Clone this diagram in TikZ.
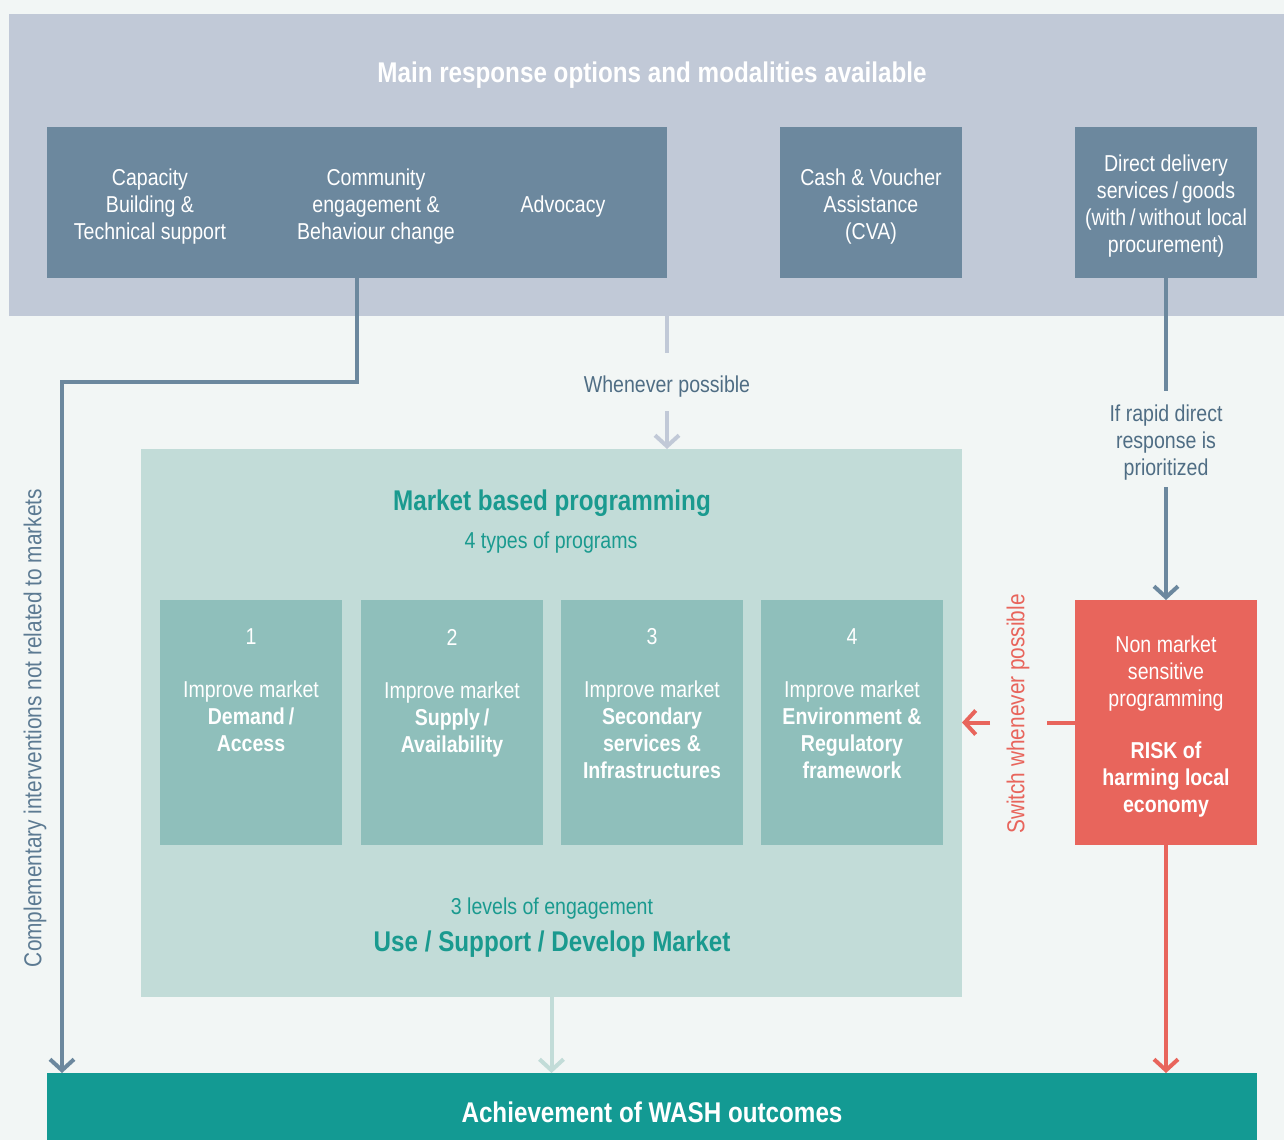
\documentclass[tikz,border=0pt]{standalone}
\usepackage{fontspec}
\setmainfont{Liberation Sans}[FakeStretch=0.85]
\usetikzlibrary{arrows.meta}
\definecolor{bgc}{HTML}{F2F6F5}
\definecolor{bandc}{HTML}{C1C9D7}
\definecolor{slate}{HTML}{6C889E}
\definecolor{mktc}{HTML}{C2DCD8}
\definecolor{mboxc}{HTML}{8FBFBB}
\definecolor{tealt}{HTML}{1A9A8F}
\definecolor{redc}{HTML}{E8655C}
\definecolor{outc}{HTML}{139A93}
\definecolor{labc}{HTML}{4F6D84}
\definecolor{vertc}{HTML}{5C7A92}
\tikzset{
  panel/.style={draw=none, inner sep=0pt, outer sep=0pt},
  txt/.style={font=\fontsize{23}{27}\selectfont, align=center, inner sep=0pt, text=white},
  bigtxt/.style={font=\fontsize{28.5}{32}\selectfont\bfseries, align=center, inner sep=0pt, text=white},
  vtxt/.style={font=\fontsize{24.5}{28}\selectfont, inner sep=0pt, rotate=90},
  barb/.tip={Straight Barb[length=11pt,width=24pt]},
  conn/.style={line width=4pt},
}
\begin{document}
\begin{tikzpicture}[x=1pt,y=-1pt]
\useasboundingbox (0,0) rectangle (1284,1140);
\fill[bgc] (0,0) rectangle (1284,1140);

% top band
\node[panel, fill=bandc, minimum width=1275pt, minimum height=302pt] (band) at (646.5,165) {};
\node[bigtxt] (title) at (652,75) {Main response options and modalities available};

% top boxes
\node[panel, fill=slate, minimum width=620pt, minimum height=151pt] (b1) at (357,202.5) {};
\node[panel, fill=slate, minimum width=182pt, minimum height=151pt] (b2) at (871,202.5) {};
\node[panel, fill=slate, minimum width=182pt, minimum height=151pt] (b3) at (1166,202.5) {};
\node[txt] (t11) at (150,207) {Capacity\\Building \&\\Technical support};
\node[txt] (t12) at (376,207) {Community\\engagement \&\\Behaviour change};
\node[txt] (t13) at (563,207) {Advocacy};
\node[txt] (t2) at (871,207) {Cash \& Voucher\\Assistance\\(CVA)};
\node[txt] (t3) at (1166,206.5) {Direct delivery\\services\,/\,goods\\(with\,/\,without local\\procurement)};

% market box
\node[panel, fill=mktc, minimum width=821pt, minimum height=548pt] (mkt) at (551.5,723) {};
\node[bigtxt, text=tealt] (mtitle) at (552,503) {Market based programming};
\node[txt, text=tealt] (msub) at (551,543) {4 types of programs};
\node[txt, text=tealt] (mlev) at (552,909) {3 levels of engagement};
\node[bigtxt, text=tealt] (muse) at (552,944) {Use / Support / Develop Market};

% four program boxes
\node[panel, fill=mboxc, minimum width=182pt, minimum height=245pt] (p1) at (251,722.5) {};
\node[panel, fill=mboxc, minimum width=182pt, minimum height=245pt] (p2) at (452,722.5) {};
\node[panel, fill=mboxc, minimum width=182pt, minimum height=245pt] (p3) at (652,722.5) {};
\node[panel, fill=mboxc, minimum width=182pt, minimum height=245pt] (p4) at (852,722.5) {};
\node[txt] (n1) at (251,637) {1};
\node[txt] (n2) at (452,637) {2};
\node[txt] (n3) at (652,637) {3};
\node[txt] (n4) at (852,637) {4};
\node[txt] (q1) at (251,716.5) {Improve market\\\textbf{Demand\,/}\\\textbf{Access}};
\node[txt] (q2) at (452,719.5) {Improve market\\\textbf{Supply\,/}\\\textbf{Availability}};
\node[txt] (q3) at (652,730) {Improve market\\\textbf{Secondary}\\\textbf{services \&}\\\textbf{Infrastructures}};
\node[txt] (q4) at (852,730) {Improve market\\\textbf{Environment \&}\\\textbf{Regulatory}\\\textbf{framework}};

% red box
\node[panel, fill=redc, minimum width=182pt, minimum height=245pt] (red) at (1166,722.5) {};
\node[txt] (r1t) at (1166,674) {Non market\\sensitive\\programming};
\node[txt] (r2t) at (1166,780) {\textbf{RISK of}\\\textbf{harming local}\\\textbf{economy}};

% outcome bar
\node[panel, fill=outc, minimum width=1210pt, minimum height=67pt] (out) at (652,1106.5) {};
\node[bigtxt] (otxt) at (652,1112) {Achievement of WASH outcomes};

% labels
\node[txt, text=labc] (wp) at (667,387) {Whenever possible};
\node[txt, text=labc] (rap) at (1166,443) {If rapid direct\\response is\\prioritized};
\node[vtxt, text=vertc] (comp) at (35,728) {Complementary interventions not related to markets};
\node[vtxt, text=redc] (sw) at (1018,714) {Switch whenever possible};

% coordinates
\coordinate (k1) at (62,382);
\coordinate (w1) at (667,353);
\coordinate (w2) at (667,411);
\coordinate (rr1) at (1166,391);
\coordinate (rr2) at (1166,487);
\coordinate (s1) at (1047,722.5);
\coordinate (s2) at (990,722.5);

% connectors
\draw[conn, slate, -barb] (b1.south) |- (k1) -- (k1 |- out.north);
\draw[conn, bandc] (b1.east |- band.south) -- (w1);
\draw[conn, bandc, -barb] (w2) -- (w2 |- mkt.north);
\draw[conn, slate] (b3.south) -- (rr1);
\draw[conn, slate, -barb] (rr2) -- (red.north);
\draw[conn, redc] (red.west) -- (s1);
\draw[conn, redc, -barb] (s2) -- (mkt.east |- s2);
\draw[conn, redc, -barb] (red.south) -- (red.south |- out.north);
\draw[conn, mktc, -barb] (mkt.south) -- (mkt.south |- out.north);
\end{tikzpicture}
\end{document}
